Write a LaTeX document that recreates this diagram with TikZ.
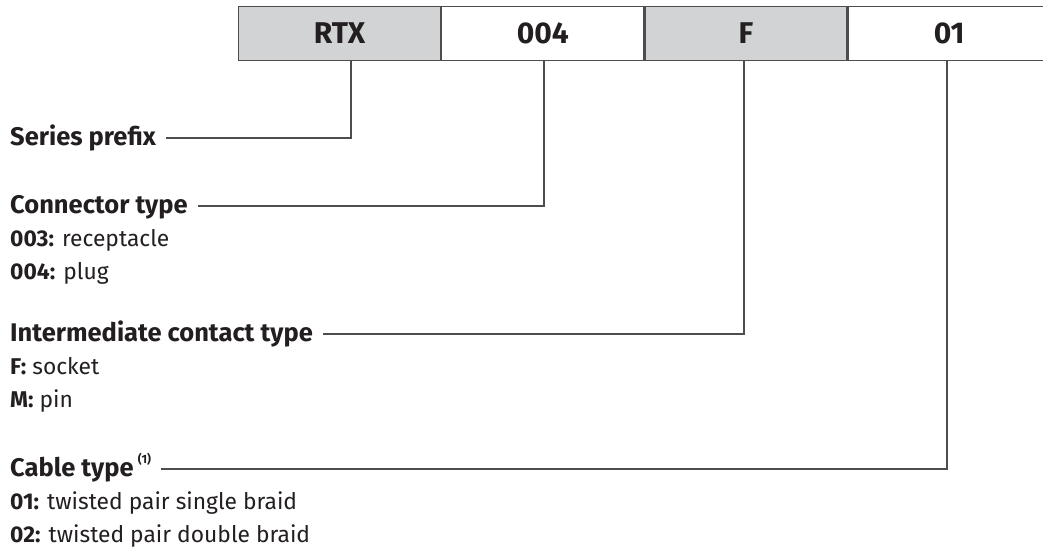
\documentclass[tikz,border=0pt]{standalone}
\usepackage{fontspec}
\setmainfont{Fira Sans}
\definecolor{ink}{HTML}{231F20}
\definecolor{boxgray}{HTML}{D1D3D4}
\definecolor{linegray}{HTML}{4D4D4D}
\begin{document}
\begin{tikzpicture}[x=1pt,y=-1pt,
  codebox/.style={draw=linegray, line width=1.2pt, minimum width=202pt, minimum height=54pt,
    inner sep=0pt, anchor=north west, font=\fontsize{30}{32}\selectfont\bfseries, text=ink},
  grey/.style={fill=boxgray},
  head/.style={anchor=base west, inner sep=0pt, text height=16pt, text depth=2pt,
    font=\fontsize{25.5}{28}\selectfont\bfseries, text=ink},
  item/.style={anchor=base west, inner sep=0pt, font=\fontsize{22.8}{26}\selectfont, text=ink},
  lead/.style={draw=linegray, line width=1.1pt}]
\useasboundingbox (0,0) rectangle (1043,547);
\clip (0,0) rectangle (1043,547);
\fill[white] (0,0) rectangle (1043,547);
% code boxes
\node[codebox, grey] (b1) at (238,6) {RTX};
\node[codebox] (b2) at (b1.north east) {004};
\node[codebox, grey] (b3) at (b2.north east) {F};
\node[codebox] (b4) at (b3.north east) {01};
% connector ends on the boxes
\coordinate (t1) at (351,60);
\coordinate (t2) at (544,60);
\coordinate (t3) at (744,60);
\coordinate (t4) at (947,60);
% labels
\node[head] (h1) at (10,145) {Series prefix};
\node[head] (h2) at (10,213) {Connector type};
\node[item] (i21) at (10,246) {\textbf{003:} receptacle};
\node[item] (i22) at (10,279) {\textbf{004:} plug};
\node[head] (h3) at (10,341) {Intermediate contact type};
\node[item] (i31) at (10,374) {\textbf{F:} socket};
\node[item] (i32) at (10,407) {\textbf{M:} pin};
\node[head] (h4) at (10,476) {Cable type\,\raisebox{0.5em}{\fontsize{12}{13}\selectfont\bfseries (1)}};
\node[item] (i41) at (10,509) {\textbf{01:} twisted pair single braid};
\node[item] (i42) at (10,542) {\textbf{02:} twisted pair double braid};
% leaders
\draw[lead] ([xshift=10pt]h1.east) -| (t1);
\draw[lead] ([xshift=10pt]h2.east) -| (t2);
\draw[lead] ([xshift=10pt]h3.east) -| (t3);
\draw[lead] ([xshift=10pt]h4.east) -| (t4);
\end{tikzpicture}
\end{document}
